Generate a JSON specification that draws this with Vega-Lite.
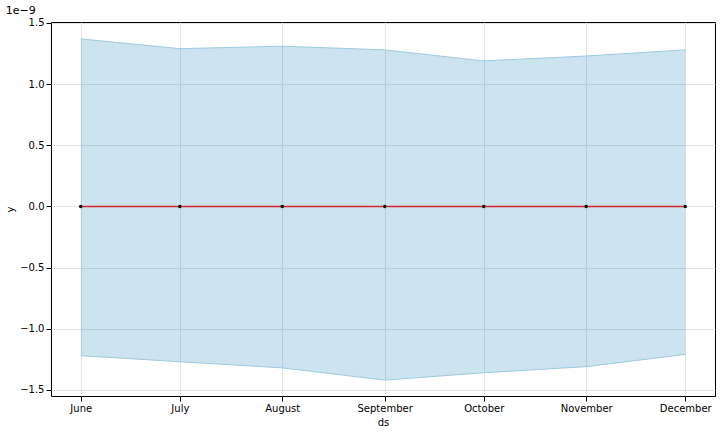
{
  "$schema": "https://vega.github.io/schema/vega-lite/v6.json",
  "width": 720,
  "height": 432,
  "autosize": {"type": "fit", "contains": "padding"},
  "background": "white",
  "title": {"text": "1e−9", "anchor": "start", "fontSize": 11, "fontWeight": "normal", "font": "DejaVu Sans", "offset": 2, "color": "black"},
  "config": {
    "view": {"stroke": "black", "strokeWidth": 1},
    "axis": {"labelFont": "DejaVu Sans", "titleFont": "DejaVu Sans", "labelFontSize": 10, "titleFontSize": 10, "titleFontWeight": "normal", "labelColor": "black", "titleColor": "black", "tickColor": "black", "domain": false, "gridColor": "#dddddd", "gridWidth": 0.8}
  },
  "data": {
    "values": [
      {"ds": "2013-06-01", "y": 0, "yhat": 0, "lower": -1.22, "upper": 1.37},
      {"ds": "2013-07-01", "y": 0, "yhat": 0, "lower": -1.27, "upper": 1.29},
      {"ds": "2013-08-01", "y": 0, "yhat": 0, "lower": -1.32, "upper": 1.31},
      {"ds": "2013-09-01", "y": 0, "yhat": 0, "lower": -1.42, "upper": 1.28},
      {"ds": "2013-10-01", "y": 0, "yhat": 0, "lower": -1.36, "upper": 1.19},
      {"ds": "2013-11-01", "y": 0, "yhat": 0, "lower": -1.31, "upper": 1.23},
      {"ds": "2013-12-01", "y": 0, "yhat": 0, "lower": -1.21, "upper": 1.28}
    ]
  },
  "encoding": {
    "x": {
      "field": "ds", "type": "temporal", "title": "ds",
      "scale": {"type": "utc", "domain": ["2013-05-23", "2013-12-10"]},
      "axis": {"format": "%Y-%m", "formatType": "utc", "tickCount": {"interval": "month", "step": 1}, "labelAngle": 0}
    }
  },
  "layer": [
    {
      "mark": {"type": "area", "color": "#0072B2", "opacity": 0.2},
      "encoding": {
        "y": {"field": "upper", "type": "quantitative", "title": "y",
          "scale": {"domain": [-1.55, 1.508], "nice": false, "zero": false},
          "axis": {"values": [-1.5, -1.0, -0.5, 0, 0.5, 1.0, 1.5], "format": ".1f"}},
        "y2": {"field": "lower"}
      }
    },
    {"mark": {"type": "line", "color": "#9ecae1", "strokeWidth": 1}, "encoding": {"y": {"field": "upper", "type": "quantitative"}}},
    {"mark": {"type": "line", "color": "#9ecae1", "strokeWidth": 1}, "encoding": {"y": {"field": "lower", "type": "quantitative"}}},
    {"mark": {"type": "line", "color": "#d62728", "strokeWidth": 1.5}, "encoding": {"y": {"field": "yhat", "type": "quantitative"}}},
    {"mark": {"type": "point", "filled": true, "color": "black", "size": 12, "opacity": 1}, "encoding": {"y": {"field": "y", "type": "quantitative"}}}
  ]
}
